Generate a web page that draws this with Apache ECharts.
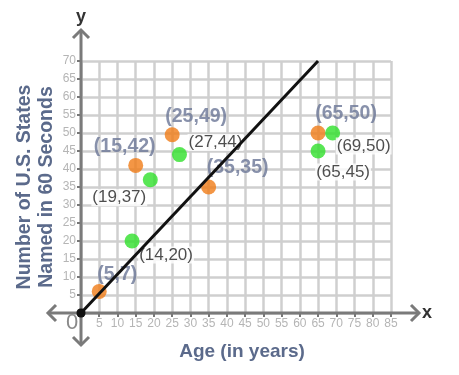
<!DOCTYPE html>
<html><head><meta charset="utf-8">
<script src="https://cdn.jsdelivr.net/npm/echarts@6/dist/echarts.min.js"></script>
<style>html,body{margin:0;padding:0;background:#fff}#c{width:459px;height:375px}</style>
</head><body><div id="c"></div>
<script>
// ---- data ----
var orangeX = [5, 15, 25, 35, 65];
var orangeY = [6, 41, 49.5, 35, 50];
var orangeLabels = ['(5,7)', '(15,42)', '(25,49)', '(35,35)', '(65,50)'];
var greenX = [14, 19, 27, 65, 69];
var greenY = [20, 37, 44, 45, 50];
var greenLabels = ['(14,20)', '(19,37)', '(27,44)', '(65,45)', '(69,50)'];
var lineX = [0, 65];
var lineY = [0, 70];
var xTicks = [0, 85, 5];
var yTicks = [0, 70, 5];
// ---- layout (label offsets) ----
var orangeOffsets = [[18,-17],[-11,-19],[24,-18],[29,-19],[28,-19]];
var greenOffsets = [[34,14],[-31,18],[36,-12],[25,21],[31,13]];

var chart = echarts.init(document.getElementById('c'));
function pts(xs, ys, labels, offs) {
  return xs.map(function (x, i) {
    return { value: [x, ys[i]], label: { formatter: labels[i], offset: offs[i] } };
  });
}
var tickColor = '#b5b5b5';
chart.setOption({
  animation: false,
  grid: { left: 81, top: 61, width: 310, height: 252, containLabel: false },
  xAxis: {
    type: 'value', min: xTicks[0], max: xTicks[1], interval: xTicks[2],
    axisLine: { show: false },
    axisTick: { show: true, length: 4, lineStyle: { color: '#777', width: 2 } },
    axisLabel: { color: tickColor, fontSize: 12, margin: 5, fontFamily: 'Liberation Sans',
      formatter: function (v) { return v === 0 ? '' : v; } },
    splitLine: { show: true, lineStyle: { color: '#cfcfcf', width: 2.5 } },
    name: 'Age (in years)', nameLocation: 'middle', nameGap: 29, nameMoveOverlap: false,
    nameTextStyle: { color: '#5b6a8b', fontSize: 19, fontWeight: 'bold', fontFamily: 'Liberation Sans', padding: [0,0,0,12] }
  },
  yAxis: {
    type: 'value', min: yTicks[0], max: yTicks[1], interval: yTicks[2],
    axisLine: { show: false },
    axisTick: { show: true, length: 4, lineStyle: { color: '#777', width: 2 } },
    axisLabel: { color: tickColor, fontSize: 12, margin: 5, fontFamily: 'Liberation Sans',
      formatter: function (v) { return v === 0 ? '' : v; } },
    splitLine: { show: true, lineStyle: { color: '#cfcfcf', width: 2.5 } },
    name: 'Number of U.S. States\nNamed in 60 Seconds', nameLocation: 'middle', nameRotate: 90, nameGap: 23, nameMoveOverlap: false,
    nameTextStyle: { color: '#5b6a8b', fontSize: 19.5, fontWeight: 'bold', fontFamily: 'Liberation Sans', lineHeight: 22, padding: [0,0,0,0] }
  },
  series: [
    {
      type: 'scatter', z: 2, symbolSize: 15,
      itemStyle: { color: '#f07c17' },
      label: { show: true, position: 'inside', color: '#6a7596', fontSize: 19.5, fontWeight: 'bold', fontFamily: 'Liberation Sans' },
      data: pts(orangeX, orangeY, orangeLabels, orangeOffsets)
    },
    {
      type: 'scatter', z: 2, symbolSize: 15,
      itemStyle: { color: '#2fe02a' },
      label: { show: true, position: 'inside', color: '#222', fontSize: 17, fontFamily: 'Liberation Sans',
        backgroundColor: '#fff', padding: [0, 1] },
      data: pts(greenX, greenY, greenLabels, greenOffsets)
    },
    {
      type: 'line', z: 5, symbol: 'none', clip: false,
      lineStyle: { color: '#111', width: 3 },
      data: lineX.map(function (x, i) { return [x, lineY[i]]; })
    },
    {
      type: 'scatter', z: 6, symbolSize: 9, itemStyle: { color: '#111' },
      data: [[lineX[0], lineY[0]]]
    }
  ]
});

// axes with arrows, derived from the axis scale
var o = chart.convertToPixel({ gridIndex: 0 }, [0, 0]);
var e = chart.convertToPixel({ gridIndex: 0 }, [85, 70]);
var ax = { color: '#7a7a7a', width: 3 };
var L = o[0] - 33, R = e[0] + 28, T = e[1] - 31, B = o[1] + 32;
function line(pts) { return { type: 'polyline', z: 10, shape: { points: pts }, style: { stroke: ax.color, lineWidth: ax.width, fill: null, lineJoin: 'miter' } }; }
var a = 8;
chart.setOption({
  graphic: [
    line([[L, o[1]], [R, o[1]]]),
    line([[o[0], T], [o[0], B]]),
    line([[R - a, o[1] - a], [R, o[1]], [R - a, o[1] + a]]),
    line([[L + a, o[1] - a], [L, o[1]], [L + a, o[1] + a]]),
    line([[o[0] - a, T + a], [o[0], T], [o[0] + a, T + a]]),
    line([[o[0] - a, B - a], [o[0], B], [o[0] + a, B - a]]),
    { type: 'circle', z: 11, shape: { cx: o[0], cy: o[1], r: 4.5 }, style: { fill: '#111' } },
    { type: 'text', z: 11, x: o[0] - 9, y: o[1] + 10, style: { text: '0', fill: '#8a8a8a', font: '22px "Liberation Sans"', textAlign: 'center', textVerticalAlign: 'middle' } },
    { type: 'text', z: 11, x: R + 8, y: o[1], style: { text: 'x', fill: '#333', font: 'bold 18px "Liberation Sans"', textAlign: 'center', textVerticalAlign: 'middle' } },
    { type: 'text', z: 11, x: o[0], y: T - 13, style: { text: 'y', fill: '#333', font: 'bold 18px "Liberation Sans"', textAlign: 'center', textVerticalAlign: 'middle' } }
  ]
});
</script></body></html>
